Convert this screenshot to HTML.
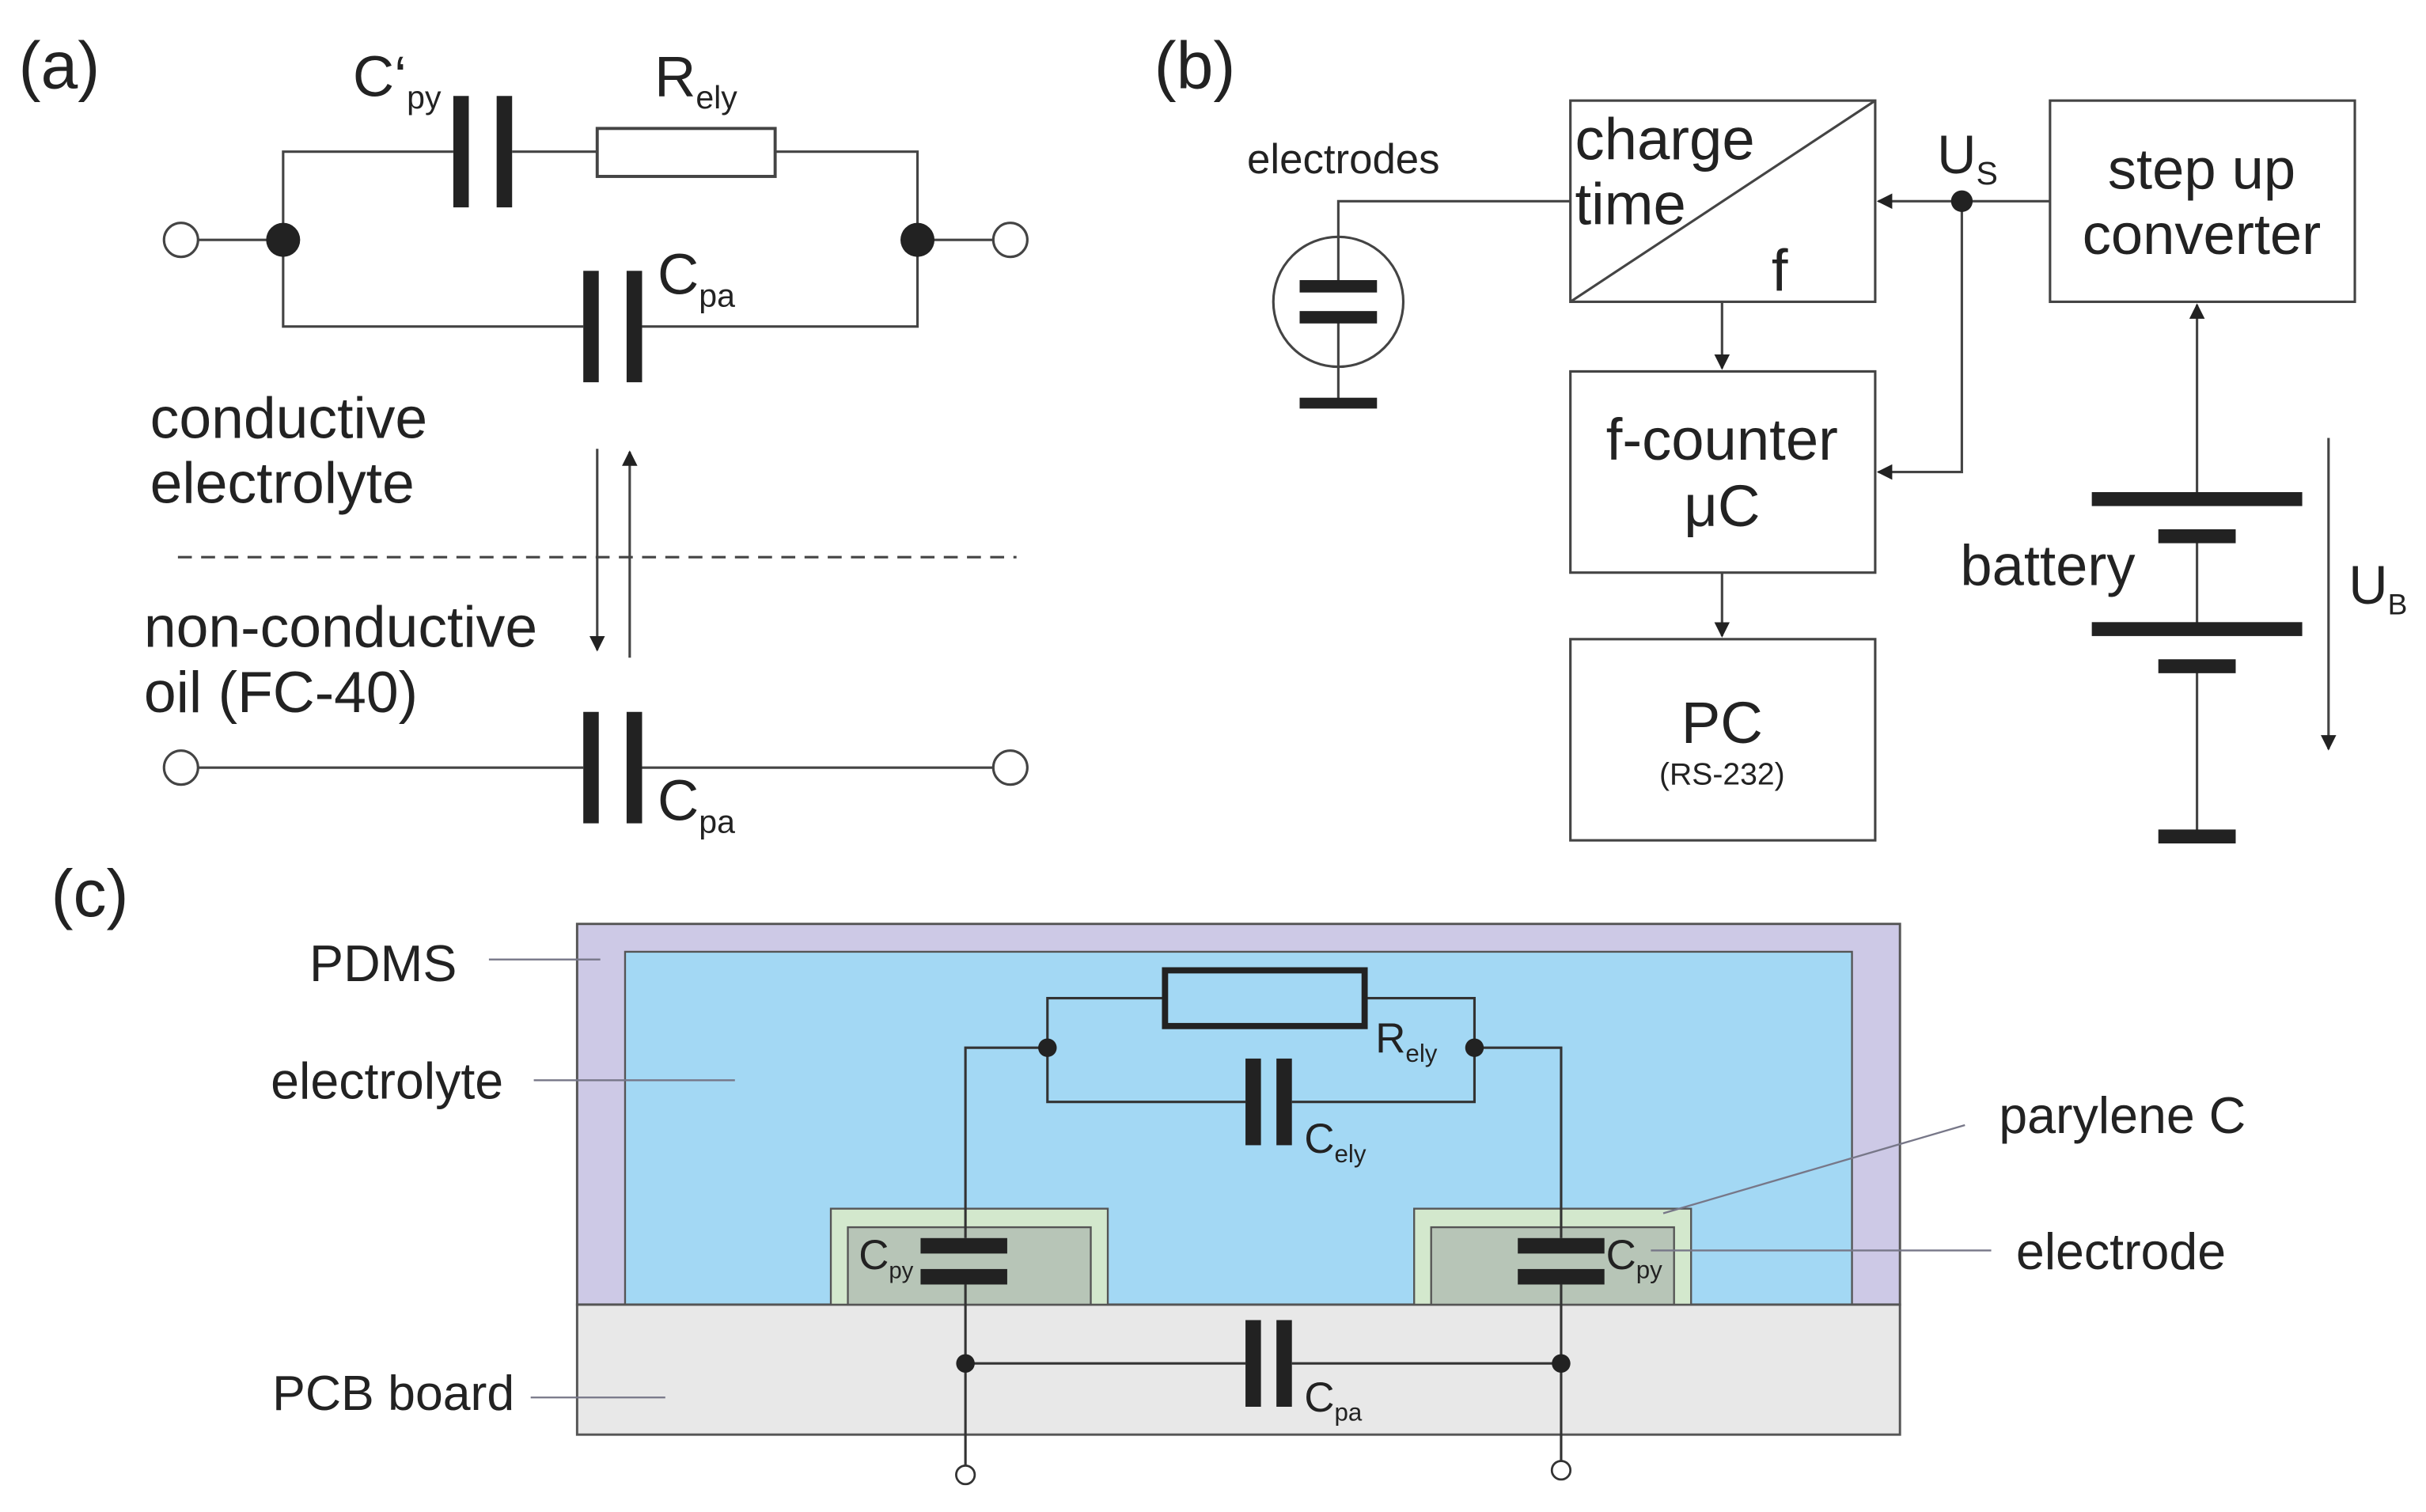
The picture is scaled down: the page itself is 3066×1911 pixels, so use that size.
<!DOCTYPE html>
<html><head><meta charset="utf-8"><style>html,body{margin:0;padding:0;background:#fff}svg{display:block}text{font-family:"Liberation Sans",sans-serif;fill:#222}</style></head><body>
<svg width="3066" height="1911" viewBox="0 0 1568 977" preserveAspectRatio="none" xmlns="http://www.w3.org/2000/svg">
<defs><marker id="ah" markerWidth="10" markerHeight="10" refX="9" refY="5" orient="auto" markerUnits="userSpaceOnUse"><path d="M0,0 L10,5 L0,10 z" fill="#222"/></marker></defs>
<g stroke="#444" stroke-width="1.6" fill="none">
<path d="M128,155 H183 M183,155 V98 H293 M331,98 H386 M501,98 H593 V155 H642 M183,155 V211 H377 M415,211 H593 V155"/>
<rect x="386" y="83" width="115" height="31" stroke-width="2"/>
<path d="M128,496 H377 M415,496 H642"/>
<path d="M115,360 H657" stroke-dasharray="9,6"/>
<path d="M386,290 V420" marker-end="url(#ah)"/>
<path d="M407,425 V292" marker-end="url(#ah)"/>
<path d="M865,185 V130 H1015 M865,205 V260"/>
<circle cx="865" cy="195" r="42"/>
<rect x="1015" y="65" width="197" height="130"/>
<path d="M1015,195 L1212,65"/>
<rect x="1325" y="65" width="197" height="130"/>
<rect x="1015" y="240" width="197" height="130"/>
<rect x="1015" y="413" width="197" height="130"/>
<path d="M1325,130 H1214" marker-end="url(#ah)"/>
<path d="M1268,130 V305 H1214" marker-end="url(#ah)"/>
<path d="M1113,195 V238" marker-end="url(#ah)"/>
<path d="M1113,370 V411" marker-end="url(#ah)"/>
<path d="M1420,322 V197" marker-end="url(#ah)"/>
<path d="M1420,346 V406 M1420,430 V540"/>
<path d="M1505,283 V484" marker-end="url(#ah)"/>
</g>
<g fill="#222">
<rect x="293" y="62" width="10" height="72"/><rect x="321" y="62" width="10" height="72"/>
<rect x="377" y="175" width="10" height="72"/><rect x="405" y="175" width="10" height="72"/>
<rect x="377" y="460" width="10" height="72"/><rect x="405" y="460" width="10" height="72"/>
<circle cx="183" cy="155" r="11"/><circle cx="593" cy="155" r="11"/>
<rect x="840" y="181" width="50" height="8"/><rect x="840" y="201" width="50" height="8"/>
<rect x="840" y="257" width="50" height="7"/>
<circle cx="1268" cy="130" r="7"/>
<rect x="1352" y="318" width="136" height="9"/><rect x="1395" y="342" width="50" height="9"/>
<rect x="1352" y="402" width="136" height="9"/><rect x="1395" y="426" width="50" height="9"/>
<rect x="1395" y="536" width="50" height="9"/>
</g>
<g fill="#fff" stroke="#444" stroke-width="1.6">
<circle cx="117" cy="155" r="11"/><circle cx="653" cy="155" r="11"/>
<circle cx="117" cy="496" r="11"/><circle cx="653" cy="496" r="11"/>
</g>
<text x="12" y="57" font-size="43">(a)</text>
<text x="228" y="62" font-size="37">C‘<tspan font-size="21" dy="8">py</tspan></text>
<text x="423" y="62" font-size="37">R<tspan font-size="21" dy="8">ely</tspan></text>
<text x="425" y="190" font-size="37">C<tspan font-size="21" dy="8">pa</tspan></text>
<text x="425" y="530" font-size="37">C<tspan font-size="21" dy="8">pa</tspan></text>
<text x="97" y="283" font-size="37.5">conductive</text>
<text x="97" y="325" font-size="37.5">electrolyte</text>
<text x="93" y="418" font-size="37.5">non-conductive</text>
<text x="93" y="460" font-size="37.5">oil (FC-40)</text>
<text x="746" y="57" font-size="43">(b)</text>
<text x="806" y="112" font-size="27">electrodes</text>
<text x="1018" y="103" font-size="38">charge</text>
<text x="1018" y="145" font-size="38">time</text>
<text x="1145" y="188" font-size="38">f</text>
<text x="1252" y="112" font-size="35">U<tspan font-size="21" dy="7">S</tspan></text>
<text x="1423" y="122" font-size="37" text-anchor="middle">step up</text>
<text x="1423" y="164" font-size="37" text-anchor="middle">converter</text>
<text x="1113" y="297" font-size="38" text-anchor="middle">f-counter</text>
<text x="1113" y="340" font-size="38" text-anchor="middle">μC</text>
<text x="1113" y="480" font-size="38" text-anchor="middle">PC</text>
<text x="1113" y="507" font-size="20" text-anchor="middle">(RS-232)</text>
<text x="1267" y="378" font-size="37">battery</text>
<text x="1518" y="390" font-size="35">U<tspan font-size="19" dy="7">B</tspan></text>
<text x="33" y="592" font-size="43">(c)</text>
<rect x="373" y="597" width="855" height="246" fill="#cdc9e6" stroke="#555" stroke-width="1.5"/>
<rect x="404" y="615" width="793" height="228" fill="#a3d8f4" stroke="#555" stroke-width="1.2"/>
<rect x="373" y="843" width="855" height="84" fill="#e8e8e8" stroke="#555" stroke-width="1.5"/>
<rect x="537" y="781" width="179" height="62" fill="#d3e8cd" stroke="#555" stroke-width="1.2"/>
<rect x="548" y="793" width="157" height="50" fill="#b7c5b7" stroke="#555" stroke-width="1.2"/>
<rect x="914" y="781" width="179" height="62" fill="#d3e8cd" stroke="#555" stroke-width="1.2"/>
<rect x="925" y="793" width="157" height="50" fill="#b7c5b7" stroke="#555" stroke-width="1.2"/>
<g stroke="#333" stroke-width="1.6" fill="none">
<path d="M677,677 V645 H753 M882,645 H953 V677 M677,677 V712 H805 M835,712 H953 V677"/>
<path d="M677,677 H624 V800 M624,830 V947 M953,677 H1009 V800 M1009,830 V944"/>
<path d="M624,881 H805 M835,881 H1009"/>
<path d="M316,620 H388 M345,698 H475 M343,903 H430 M1270,727 L1075,784 M1287,808 H1067" stroke="#778" stroke-width="1.2"/>
</g>
<rect x="753" y="627" width="129" height="36" fill="none" stroke="#222" stroke-width="4"/>
<g fill="#222">
<circle cx="677" cy="677" r="6"/><circle cx="953" cy="677" r="6"/>
<circle cx="624" cy="881" r="6"/><circle cx="1009" cy="881" r="6"/>
<rect x="805" y="684" width="10" height="56"/><rect x="825" y="684" width="10" height="56"/>
<rect x="805" y="853" width="10" height="56"/><rect x="825" y="853" width="10" height="56"/>
<rect x="595" y="800" width="56" height="10"/><rect x="595" y="820" width="56" height="10"/>
<rect x="981" y="800" width="56" height="10"/><rect x="981" y="820" width="56" height="10"/>
</g>
<circle cx="624" cy="953" r="6" fill="#fff" stroke="#333" stroke-width="1.4"/>
<circle cx="1009" cy="950" r="6" fill="#fff" stroke="#333" stroke-width="1.4"/>
<text x="889" y="680" font-size="27">R<tspan font-size="16" dy="6">ely</tspan></text>
<text x="843" y="745" font-size="27">C<tspan font-size="16" dy="6">ely</tspan></text>
<text x="555" y="820" font-size="27">C<tspan font-size="15" dy="6">py</tspan></text>
<text x="1038" y="820" font-size="27">C<tspan font-size="16" dy="6">py</tspan></text>
<text x="843" y="912" font-size="27">C<tspan font-size="16" dy="6">pa</tspan></text>
<text x="200" y="634" font-size="33">PDMS</text>
<text x="175" y="710" font-size="33">electrolyte</text>
<text x="176" y="911" font-size="32">PCB board</text>
<text x="1292" y="732" font-size="33">parylene C</text>
<text x="1303" y="820" font-size="33">electrode</text>
</svg>
</body></html>
